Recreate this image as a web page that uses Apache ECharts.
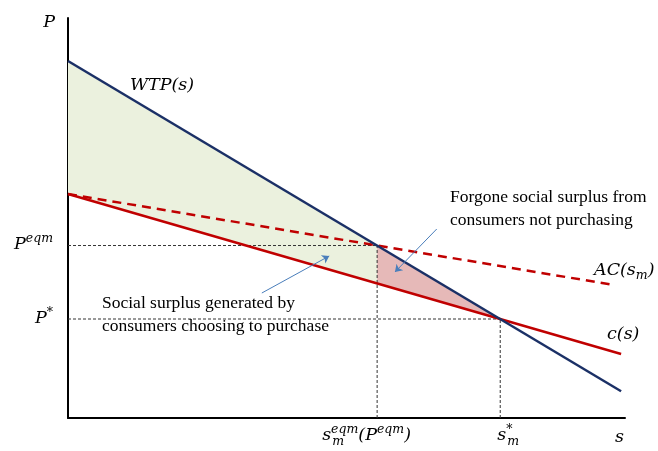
<!DOCTYPE html>
<html><head><meta charset="utf-8">
<script src="https://cdn.jsdelivr.net/npm/echarts@6/dist/echarts.min.js"></script>
<style>html,body{margin:0;padding:0;background:#fff}#c{width:658px;height:451px}</style>
</head><body><div id="c"></div>
<script>
// ---- data (axis units: s and P on 0..100 scales) ----
const sRange = [0, 100];
const pRange = [0, 100];
const wtpS = [0, 99.3];
const wtpP = [89.25, 6.7];
const costS = [0, 99.3];
const costP = [56, 16];
const acS = [0, 98];
const acP = [56, 33.25];
const sEqm = 55.5;
const sStar = 77.6;
const pEqm = 43.12;
const pStar = 24.75;
const greenS = [0, 55.5, 55.5, 0];
const greenP = [89.25, 43.12, 33.65, 56];
const redS = [55.5, 77.6, 55.5];
const redP = [43.12, 24.75, 33.65];
const arrowGreen = [[34.8, 31.25], [46.9, 40.5]];
const arrowRed = [[66.2, 47.25], [58.7, 36.5]];

const MATH = '"DejaVu Serif", "Liberation Serif", serif';
const TEXT = '"Liberation Serif", "Times New Roman", serif';

function zip(a, b) { return a.map((v, i) => [v, b[i]]); }
function poly(xs, ys, color) {
  return {
    type: 'custom', coordinateSystem: 'cartesian2d', silent: true, z: 1,
    data: [[xs[0], ys[0]]],
    renderItem: function (params, api) {
      const pts = xs.map((x, i) => api.coord([x, ys[i]]));
      return { type: 'polygon', shape: { points: pts }, style: { fill: color } };
    }
  };
}
function guide(pts) {
  return { type: 'line', data: pts, symbol: 'none', silent: true, z: 2,
    lineStyle: { color: '#333', width: 1, type: [3, 2] } };
}

const chart = echarts.init(document.getElementById('c'), null, { renderer: 'canvas' });
const axisCommon = {
  type: 'value', axisTick: { show: false }, axisLabel: { show: false },
  splitLine: { show: false },
  axisLine: { show: true, lineStyle: { color: '#000', width: 2 } }
};
chart.setOption({
  animation: false,
  backgroundColor: '#fff',
  grid: { left: 68, right: 33, top: 18, bottom: 33 },
  xAxis: Object.assign({ min: sRange[0], max: sRange[1] }, axisCommon),
  yAxis: Object.assign({ min: pRange[0], max: pRange[1] }, axisCommon),
  series: [
    poly(greenS, greenP, '#EBF1DE'),
    poly(redS, redP, '#E6B9B8'),
    guide([[0, pEqm], [sEqm, pEqm]]),
    guide([[0, pStar], [sStar, pStar]]),
    guide([[sEqm, 0], [sEqm, pEqm]]),
    guide([[sStar, 0], [sStar, pStar]]),
    { type: 'line', data: zip(acS, acP), symbol: 'none', z: 4,
      lineStyle: { color: '#C00000', width: 2.5, type: [9, 6] } },
    { type: 'line', data: zip(costS, costP), symbol: 'none', z: 5,
      lineStyle: { color: '#C00000', width: 2.5 } },
    { type: 'line', data: zip(wtpS, wtpP), symbol: 'none', z: 6,
      lineStyle: { color: '#1B3066', width: 2.5 } },
    { type: 'lines', coordinateSystem: 'cartesian2d', z: 7,
      symbol: ['none', 'arrow'], symbolSize: 7,
      lineStyle: { color: '#4A7EBB', width: 1, opacity: 1 },
      data: [{ coords: arrowGreen }, { coords: arrowRed }] }
  ]
});

const px = (x, y) => chart.convertToPixel({ gridIndex: 0 }, [x, y]);
const ax0 = px(0, 0);
const richMath = {
  b: { fontFamily: MATH, fontStyle: 'italic', fontSize: 17.5, color: '#000', lineHeight: 24, verticalAlign: 'middle' },
  sup: { fontFamily: MATH, fontStyle: 'italic', fontSize: 12.5, color: '#000', verticalAlign: 'top' },
  sub: { fontFamily: MATH, fontStyle: 'italic', fontSize: 12.5, color: '#000', verticalAlign: 'bottom' }
};
function mt(x, y, text, align) {
  return { type: 'text', x: x, y: y, silent: true, z: 20,
    style: { text: text, rich: richMath, align: align || 'left', verticalAlign: 'middle',
      fontFamily: MATH, fontSize: 17.5 } };
}
function tt(x, y, text) {
  return { type: 'text', x: x, y: y, silent: true, z: 20,
    style: { text: text, fontFamily: TEXT, fontSize: 17.5, fill: '#000', lineHeight: 23,
      align: 'left', verticalAlign: 'top' } };
}
const yEq = px(0, pEqm)[1], yStar = px(0, pStar)[1];
const xEq = px(sEqm, 0)[0], xStar = px(sStar, 0)[0], xEnd = px(sRange[1], 0)[0];
const yTop = px(0, pRange[1])[1];
const g = [
  mt(ax0[0] - 13, yTop + 4, '{b|P}', 'right'),
  mt(ax0[0] - 15, yEq - 1, '{b|P}{sup|eqm}', 'right'),
  mt(ax0[0] - 15, yStar - 1, '{b|P}{sup|*}', 'right'),
  mt(xEq - 55, ax0[1] + 17, '{b|s}{sup|eqm}{b|(P}{sup|eqm}{b|)}', 'left'),
  mt(xEq - 45, ax0[1] + 24, '{sub|m}', 'left'),
  mt(xStar - 3, ax0[1] + 17, '{b|s}{sup|*}', 'left'),
  mt(xStar + 7, ax0[1] + 24, '{sub|m}', 'left'),
  mt(xEnd - 10, ax0[1] + 19, '{b|s}', 'left'),
  mt(130, 85, '{b|WTP(s)}', 'left'),
  mt(594, 270, '{b|AC(s}{sub|m}{b|)}', 'left'),
  mt(607, 334, '{b|c(s)}', 'left'),
  tt(450, 186, 'Forgone social surplus from\nconsumers not purchasing'),
  tt(102, 292, 'Social surplus generated by\nconsumers choosing to purchase')
];
chart.setOption({ graphic: g });
</script>
</body></html>
